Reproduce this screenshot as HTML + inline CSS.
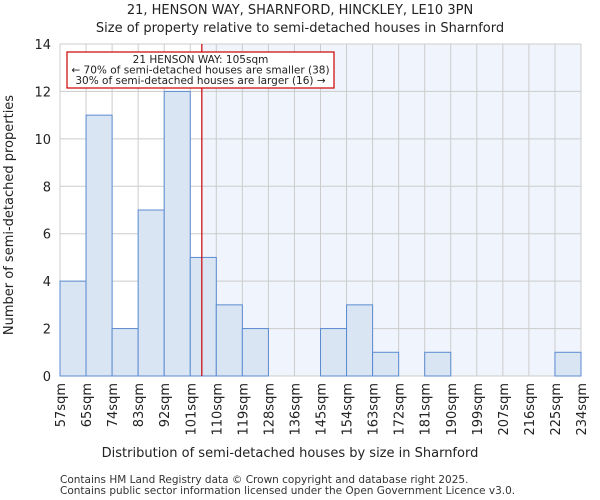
<!DOCTYPE html>
<html><head><meta charset="utf-8"><style>
body{margin:0;background:#fff;font-family:"DejaVu Sans","Liberation Sans",sans-serif}
svg{display:block}
</style></head><body>
<svg id="chart" width="600" height="500" xmlns="http://www.w3.org/2000/svg"></svg>
<script>
const categories=["57sqm","65sqm","74sqm","83sqm","92sqm","101sqm","110sqm","119sqm","128sqm","136sqm","145sqm","154sqm","163sqm","172sqm","181sqm","190sqm","199sqm","207sqm","216sqm","225sqm","234sqm"];
const counts=[4,11,2,7,12,5,3,2,0,0,2,3,1,0,1,0,0,0,0,1];
const yTicks=[0,2,4,6,8,10,12,14];
const propertyBinPos=5+4/9;
const L=60,R=581,T=44,B=376,yMax=14;
const n=counts.length,bw=(R-L)/n;
const X=i=>L+i*bw, Y=v=>B-(v/yMax)*(B-T);
const svg=document.getElementById('chart');
const NS="http://www.w3.org/2000/svg";
function mk(t,a,txt){const e=document.createElementNS(NS,t);for(const k in a)e.setAttribute(k,a[k]);if(txt!==undefined)e.textContent=txt;svg.appendChild(e);return e;}
const px=X(propertyBinPos);
let e;
e=mk('rect',{x:px,y:T,width:R-px,height:B-T,fill:'#f0f4fc'});


for(let i=0;i<=n;i++){e=mk('line',{x1:X(i),x2:X(i),y1:T,y2:B,stroke:'#cccccc','stroke-width':1});

}
yTicks.forEach(v=>{e=mk('line',{x1:L,x2:R,y1:Y(v),y2:Y(v),stroke:'#cccccc','stroke-width':1});


e=mk('text',{x:L-9,y:Y(v)+5,'text-anchor':'end','font-size':13,fill:'#222'},v);

});
counts.forEach((v,i)=>{if(v>0){e=mk('rect',{x:X(i),y:Y(v),width:bw,height:B-Y(v),fill:'#dae5f4',stroke:'#5b8bd0','stroke-width':1});

}});
categories.forEach((c,i)=>{e=mk('text',{transform:`translate(${X(i)+5},${B+7}) rotate(-90)`,'text-anchor':'end','font-size':13,fill:'#222'},c);

});
e=mk('line',{x1:px,x2:px,y1:T,y2:B,stroke:'#cc0000','stroke-width':1.2});


e=mk('rect',{x:67,y:52,width:267,height:36,fill:'#fff',stroke:'#cc0000','stroke-width':1.2});


[["21 HENSON WAY: 105sqm",63],["\u2190 70% of semi-detached houses are smaller (38)",73.5],["30% of semi-detached houses are larger (16) \u2192",84]].forEach(([t,y])=>{
e=mk('text',{x:200.5,y:y,'text-anchor':'middle','font-size':10.5,fill:'#222'},t);

});
e=mk('text',{x:300,y:14,'text-anchor':'middle','font-size':13,fill:'#222'},"21, HENSON WAY, SHARNFORD, HINCKLEY, LE10 3PN");


e=mk('text',{x:300,y:32,'text-anchor':'middle','font-size':13,fill:'#222'},"Size of property relative to semi-detached houses in Sharnford");


e=mk('text',{x:290,y:457,'text-anchor':'middle','font-size':13,fill:'#222'},"Distribution of semi-detached houses by size in Sharnford");


e=mk('text',{transform:'translate(13,215) rotate(-90)','text-anchor':'middle','font-size':13,fill:'#222'},"Number of semi-detached properties");


e=mk('text',{x:60,y:483,'font-size':10.5,fill:'#333'},"Contains HM Land Registry data \u00a9 Crown copyright and database right 2025.");


e=mk('text',{x:60,y:494,'font-size':10.5,fill:'#333'},"Contains public sector information licensed under the Open Government Licence v3.0.");


</script>
</body></html>
